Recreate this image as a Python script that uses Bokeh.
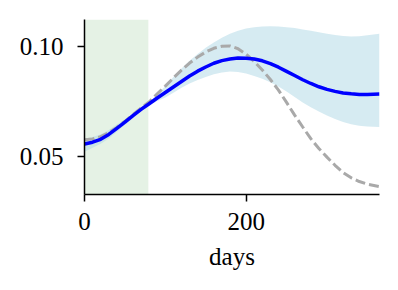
from bokeh.plotting import figure
from bokeh.models import FixedTicker, BoxAnnotation, Range1d, ColumnDataSource
from bokeh.embed import file_html
from bokeh.resources import INLINE

# data
days = [0, 10, 20, 30, 40, 50, 60, 70, 80, 90, 100, 110, 120, 130, 140, 150, 160, 170, 180,
        190, 200, 210, 220, 230, 240, 250, 260, 270, 280, 290, 300, 310, 320, 330, 340, 350, 365]
mean_pred = [0.0557, 0.0565, 0.0578, 0.0600, 0.0628, 0.0656, 0.0686, 0.0714, 0.0740, 0.0766,
             0.0791, 0.0816, 0.0841, 0.0866, 0.0888, 0.0907, 0.0924, 0.0936, 0.0943, 0.0948,
             0.0947, 0.0943, 0.0935, 0.0922, 0.0906, 0.0887, 0.0868, 0.0849, 0.0832, 0.0817,
             0.0805, 0.0796, 0.0789, 0.0785, 0.0782, 0.0782, 0.0784]
upper_pred = [0.0581, 0.0588, 0.0600, 0.0620, 0.0645, 0.0668, 0.0697, 0.0722, 0.0748, 0.0782,
              0.0820, 0.0862, 0.0900, 0.0935, 0.0966, 0.0995, 0.1018, 0.1040, 0.1058, 0.1072,
              0.1082, 0.1088, 0.1091, 0.1092, 0.1091, 0.1088, 0.1084, 0.1078, 0.1072, 0.1065,
              0.1058, 0.1052, 0.1048, 0.1046, 0.1047, 0.1051, 0.1058]
lower_pred = [0.0522, 0.0540, 0.0558, 0.0582, 0.0612, 0.0644, 0.0676, 0.0706, 0.0732, 0.0752,
              0.0768, 0.0790, 0.0812, 0.0832, 0.0848, 0.0862, 0.0874, 0.0882, 0.0886, 0.0884,
              0.0877, 0.0866, 0.0854, 0.0838, 0.0818, 0.0795, 0.0770, 0.0746, 0.0724, 0.0704,
              0.0686, 0.0670, 0.0657, 0.0647, 0.0640, 0.0636, 0.0634]
true_curve = [0.0576, 0.0580, 0.0590, 0.0608, 0.0632, 0.0660, 0.0690, 0.0720, 0.0748, 0.0785,
              0.0820, 0.0857, 0.0893, 0.0925, 0.0952, 0.0975, 0.0992, 0.1001, 0.1003, 0.0990,
              0.0965, 0.0932, 0.0893, 0.0850, 0.0802, 0.0746, 0.0688, 0.0634, 0.0581, 0.0536,
              0.0497, 0.0460, 0.0427, 0.0403, 0.0386, 0.0374, 0.0363]
train_start = 0
train_end = 79
x_ticks = [0, 200]
y_ticks = [0.05, 0.10]
y_tick_labels = {0.05: "0.05", 0.1: "0.10"}

FONT = "Liberation Serif"
FS = "25px"

p = figure(width=390, height=282, output_backend="svg", toolbar_location=None,
           x_range=Range1d(0, 365), y_range=Range1d(0.0327, 0.1123),
           min_border_left=84, min_border_right=11, min_border_top=19, min_border_bottom=88)
p.outline_line_color = None
p.xgrid.visible = False
p.ygrid.visible = False
p.background_fill_color = "white"
p.border_fill_color = "white"

p.add_layout(BoxAnnotation(left=train_start, right=train_end, fill_color="#008000",
                           fill_alpha=0.1, line_color=None, level="underlay"))

src = ColumnDataSource(dict(x=days, m=mean_pred, lo=lower_pred, hi=upper_pred, t=true_curve))
p.varea(x="x", y1="lo", y2="hi", source=src, fill_color="#add8e6", fill_alpha=0.5)
p.line(x="x", y="t", source=src, line_color="#a9a9a9", line_width=3, line_dash="10 4")
p.line(x="x", y="m", source=src, line_color="#0000ff", line_width=3.5)

for ax in (p.xaxis[0], p.yaxis[0]):
    ax.axis_line_color = "black"
    ax.axis_line_width = 1.5
    ax.major_tick_line_color = "black"
    ax.major_tick_line_width = 1.5
    ax.major_tick_out = 7
    ax.major_tick_in = 0
    ax.minor_tick_out = 0
    ax.minor_tick_in = 0
    ax.major_label_text_font = FONT
    ax.major_label_text_font_size = FS
    ax.major_label_text_color = "black"

p.xaxis.ticker = FixedTicker(ticks=x_ticks)
p.yaxis.ticker = FixedTicker(ticks=y_ticks)
p.yaxis.major_label_overrides = y_tick_labels
p.xaxis.major_label_standoff = 11
p.yaxis.major_label_standoff = 14
p.xaxis.axis_label = "days"
p.xaxis.axis_label_text_font = FONT
p.xaxis.axis_label_text_font_size = FS
p.xaxis.axis_label_text_font_style = "normal"
p.xaxis.axis_label_text_color = "black"
p.xaxis.axis_label_standoff = 10

open("out.html", "w").write(file_html(p, INLINE))
